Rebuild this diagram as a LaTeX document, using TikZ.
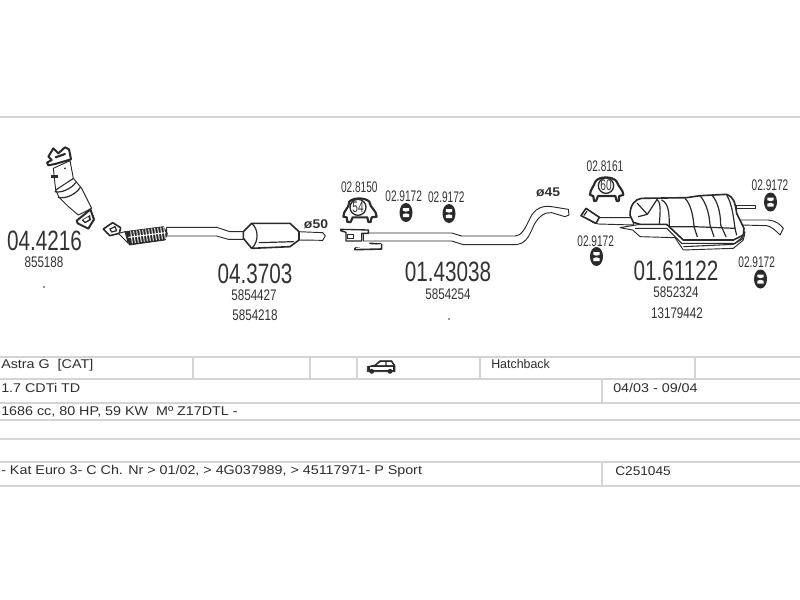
\documentclass[tikz,border=0pt]{standalone}
\usepackage{fontspec}
\setmainfont{Liberation Sans}
\definecolor{rule}{HTML}{D4D4D4}
\definecolor{ink}{HTML}{2E2E2E}
\definecolor{txt}{HTML}{333333}
\definecolor{part}{HTML}{2A2A2A}
\newcommand{\bignum}[1]{\scalebox{0.74}[1]{\fontsize{21}{21}\selectfont #1}}
\newcommand{\refnum}[1]{\scalebox{0.76}[1]{\fontsize{11.5}{12}\selectfont #1}}
\newcommand{\clampnum}[1]{\scalebox{0.66}[1]{\fontsize{11.5}{12}\selectfont #1}}
\newcommand{\wide}[1]{\scalebox{1.13}[1]{#1}}
\tikzset{
  tablerule/.style={draw=rule,line width=1.1pt},
  bignumber/.style={text=txt,inner sep=0pt,anchor=center},
  rowtext/.style={text=ink,inner sep=0pt,anchor=west,font=\fontsize{9.5}{11}\selectfont},
  pipe/.style={draw=part,line width=0.7pt,fill=white,line join=round},
  thickpart/.style={draw=part,line width=1.2pt,fill=white,line join=round},
  darkpart/.style={draw=part,fill=part,line width=0.6pt,line join=round},
  seam/.style={draw=part,line width=0.9pt,line cap=round,line join=round},
  mount/.pic={
    \fill[part] (0,0) ellipse [x radius=6.5,y radius=9.5];
    \fill[white] (-3.2,-4.5) -- (3.2,-4.5) -- (3.2,-1.8) -- (0,-0.8) -- (-3.2,-1.8) -- cycle;
    \fill[white] (-3.2,4.5) -- (3.2,4.5) -- (3.2,1.8) -- (0,0.8) -- (-3.2,1.8) -- cycle;
  }
}
\begin{document}
\begin{tikzpicture}[x=0.75pt,y=-0.75pt]
\useasboundingbox (0,0) rectangle (800,600);
\fill[white] (0,0) rectangle (800,600);
% table rules
\draw[tablerule] (0,117) -- (800,117);
\foreach \yy in {357,379,403,420,439,462,486}{\draw[tablerule] (0,\yy) -- (800,\yy);}
\foreach \xx in {193,310,357,480,695}{\draw[tablerule] (\xx,357) -- (\xx,379);}
\draw[tablerule] (602,379) -- (602,403);
\draw[tablerule] (602,462) -- (602,486);
% table text
\node[rowtext] (r1) at (1,365) {\wide{Astra G\ \ [CAT]}};
\node[rowtext] (r1b) at (491,364) {\scalebox{0.98}[1]{Hatchback}};
\node[rowtext] (r2) at (1,388) {\wide{1.7 CDTi TD}};
\node[rowtext] (r2b) at (613,388) {\wide{04/03 - 09/04}};
\node[rowtext] (r3) at (1,412) {\wide{1686 cc, 80 HP, 59 KW\ \ Mº Z17DTL -}};
\node[rowtext] (r5) at (1,471) {\wide{- Kat Euro 3- C Ch. Nr > 01/02, > 4G037989, > 45117971- P Sport}};
\node[rowtext] (r5b) at (615,471) {\scalebox{1.08}[1]{C251045}};
% car icon
\begin{scope}[shift={(0,345)},scale=1/3]
\draw[darkpart] (1102,80) -- (1102,65) -- (1125,60) -- (1140,47) -- (1175,47) -- (1185,62) -- (1185,80) -- cycle;
\fill[white] (1130,60) -- (1143,51) -- (1156,51) -- (1156,60) -- cycle;
\fill[white] (1160,51) -- (1173,51) -- (1179,60) -- (1160,60) -- cycle;
\fill[white] (1110,65) -- (1178,65) -- (1178,76) -- (1110,76) -- cycle;
\draw[darkpart] (1115,79) circle (6);
\draw[darkpart] (1170,79) circle (6);
\end{scope}
% cat 04.4216
\begin{scope}[shift={(35,140)},scale=1/3]
\draw[pipe] (62,150) -- (115,115) -- (140,145) -- (170,205) -- (130,225) -- (98,198) -- (72,172) -- cycle;
\draw[seam] (60,155) .. controls (80,160) and (110,145) .. (122,128);
\draw[seam] (70,172) .. controls (95,178) and (125,160) .. (136,142);
\draw[pipe] (55,85) -- (105,62) -- (115,115) -- (62,150) -- cycle;
\draw[thickpart,line width=1.5pt] (40,50) -- (55,25) -- (70,40) -- (90,22) -- (102,28) -- (108,58) -- (60,72) -- (40,76) -- (36,68) -- (50,60) -- cycle;
\draw[seam,line width=1.6pt] (62,52) -- (90,42);
\draw[darkpart] (48,105) rectangle (68,113);
\fill[part] (90,85) circle (3);
\draw[thickpart,line width=1.5pt] (125,242) -- (150,222) -- (166,208) -- (177,238) -- (160,266) -- (128,250) -- cycle;
\fill[part] (140,240) -- (165,225) -- (168,240) -- (150,250) -- cycle;
\fill[white] (146,239) -- (160,231) -- (162,238) -- (150,245) -- cycle;
\end{scope}
\node[bignumber] (n1) at (44.5,241) {\bignum{04.4216}};
\node[bignumber] (n1a) at (44,262) {\refnum{855188}};
\fill[part] (44,287) circle (0.9);
% pipe 04.3703
\begin{scope}[shift={(0,130)},scale=1/3]
\draw[pipe] (895,305) -- (968,308) -- (976,318) -- (968,331) -- (895,330) -- cycle;
\draw[pipe] (500,292) -- (650,292) -- (690,305) -- (735,305) -- (735,328) -- (685,328) -- (650,318) -- (500,318) -- cycle;
\draw[thickpart] (730,305) -- (755,280) -- (870,280) -- (897,305) -- (897,330) -- (870,350) -- (755,355) -- (730,325) -- cycle;
\draw[seam] (755,280) .. controls (775,295) and (778,335) .. (755,355);
\draw[seam] (778,338) -- (880,335);
\draw[thickpart] (310,297) -- (338,278) -- (362,293) -- (358,310) -- (330,317) -- cycle;
\draw[seam] (330,297) -- (345,290) -- (350,302) -- (335,306) -- cycle;
\draw[darkpart] (375,305) -- (490,290) -- (502,310) -- (495,330) -- (388,345) -- cycle;
\foreach \i in {0,...,11}{
  \draw[white,line width=0.7pt] ({392+9*\i},{304-1.2*\i}) -- ({397+9*\i},{340-1.2*\i});
}
\draw[white,line width=0.8pt] (385,322) -- (497,308);
\draw[pipe] (355,310) -- (375,305) -- (385,340) -- cycle;
\end{scope}
\node[text=txt,inner sep=0pt,font=\fontsize{9.5}{10}\selectfont\bfseries] (d50) at (316,224) {\scalebox{1.1}[1]{ø50}};
\node[bignumber] (n2) at (255,274) {\bignum{04.3703}};
\node[bignumber] (n2a) at (254,295) {\refnum{5854427}};
\node[bignumber] (n2b) at (255,315) {\refnum{5854218}};
% pipe 01.43038
\begin{scope}[shift={(330,160)},scale=1/3]
\draw[pipe] (100,219) -- (365,219) -- (395,228) -- (555,228) .. controls (575,228) and (585,205) .. (600,175) .. controls (612,148) and (635,135) .. (665,140) -- (715,148) -- (717,165) -- (705,170) -- (665,158) .. controls (645,155) and (625,170) .. (612,195) .. controls (595,235) and (585,252) .. (555,254) -- (400,254) -- (365,243) -- (100,243) -- cycle;
\draw[pipe,line width=1pt] (32,208) -- (115,210) -- (115,220) -- (95,220) -- (95,243) -- (48,243) -- (48,217) -- (32,212) -- cycle;
\fill[part] (50,222) rectangle (72,236);
\fill[white] (54,225) rectangle (70,233);
\draw[thickpart] (75,264) -- (150,262) -- (153,252) -- (118,250);
\draw[thickpart] (75,264) -- (75,269) -- (155,267) -- (155,252);
\end{scope}
\node[text=txt,inner sep=0pt,font=\fontsize{9.5}{10}\selectfont\bfseries] (d45) at (548,192) {\scalebox{1.1}[1]{ø45}};
\node[bignumber] (n3) at (448,272) {\bignum{01.43038}};
\node[bignumber] (n3a) at (448,294) {\refnum{5854254}};
\fill[part] (449,319) circle (0.9);
% clamp 02.8150
\begin{scope}[shift={(330,160)},scale=1/3]
\draw[thickpart,line width=1.6pt] (40,170) .. controls (40,150) and (58,145) .. (58,125) .. controls (70,112) and (105,112) .. (118,125) .. controls (120,145) and (140,150) .. (140,170) -- (125,172) -- (122,186) -- (115,186) -- (112,172) -- (68,172) -- (62,186) -- (52,186) -- (50,172) -- cycle;
\draw[part,line width=1pt,fill=white] (84,142) circle (24);
\node[text=txt,inner sep=0pt] (c54) at (84,142) {\clampnum{54}};
\node[text=txt,inner sep=0pt] (l1) at (88,83) {\clampnum{02.8150}};
\node[text=txt,inner sep=0pt] (l2) at (221,108) {\clampnum{02.9172}};
\node[text=txt,inner sep=0pt] (l3) at (349,112) {\clampnum{02.9172}};
\end{scope}
\pic at (406,212.5) {mount};
\pic at (449,213.5) {mount};
% silencer 01.61122
\begin{scope}[shift={(570,140)},scale=1/3]
\draw[pipe] (37,225) -- (50,207) -- (90,233) -- (190,233) -- (190,255) -- (85,252) -- (70,248) -- cycle;
\draw[thickpart] (33,227) -- (48,205) -- (88,232) -- (78,250) -- cycle;
\draw[seam] (42,226) -- (51,214);
\node[text=txt,inner sep=0pt] (l4) at (105,78) {\clampnum{02.8161}};
\node[text=txt,inner sep=0pt] (l5) at (600,135) {\clampnum{02.9172}};
\node[text=txt,inner sep=0pt] (l6) at (77,303) {\clampnum{02.9172}};
\node[text=txt,inner sep=0pt] (l7) at (560,366) {\clampnum{02.9172}};
\draw[thickpart,line width=1.6pt] (60,165) .. controls (60,148) and (72,140) .. (76,125) .. controls (85,108) and (130,108) .. (140,125) .. controls (145,140) and (160,150) .. (160,165) -- (148,168) -- (146,183) -- (140,183) -- (136,168) -- (84,168) -- (78,183) -- (72,183) -- (70,168) -- cycle;
\draw[part,line width=1pt,fill=white] (108,137) circle (23);
\node[text=txt,inner sep=0pt] (c60) at (108,137) {\clampnum{60}};
\end{scope}
\begin{scope}[shift={(620,185)},scale=1/3]
\draw[pipe] (360,105) -- (445,105) .. controls (470,108) and (480,118) .. (490,130) -- (480,150) .. controls (465,135) and (455,125) .. (440,122) -- (365,120) -- cycle;
\draw[pipe] (350,60) -- (405,60) -- (405,70) -- (350,70) -- cycle;
\draw[pipe] (0,128) -- (60,118) -- (140,118) -- (190,165) -- (340,165) -- (375,140) -- (370,165) -- (340,190) -- (190,195) -- (165,158) -- (60,155) -- (38,135) -- cycle;
\draw[thickpart] (30,90) .. controls (30,60) and (45,42) .. (65,40) -- (200,38) -- (240,32) -- (320,28) .. controls (340,35) and (345,50) .. (350,85) -- (372,130) -- (370,150) -- (340,165) -- (190,165) -- (140,118) -- (60,118) -- (40,112) -- cycle;
\draw[seam] (110,42) .. controls (122,52) and (122,70) .. (118,118);
\draw[seam] (125,45) .. controls (145,55) and (148,80) .. (148,125);
\draw[seam] (195,40) .. controls (215,60) and (220,100) .. (222,125) -- (232,155);
\draw[seam] (240,32) .. controls (260,55) and (268,90) .. (270,120) -- (282,155);
\draw[seam] (275,30) .. controls (295,50) and (302,90) .. (302,120) -- (318,155);
\draw[seam] (320,30) .. controls (335,55) and (340,90) .. (345,130) -- (350,150);
\draw[seam] (52,55) -- (82,88) -- (55,95);
\draw[seam] (82,88) -- (110,45);
\draw[seam] (148,125) -- (222,125) -- (345,130);
\draw[part,line width=0.8pt] (45,130) -- (140,130) -- (185,175) -- (345,175) -- (375,150);
\draw[part,line width=0.8pt] (190,185) -- (340,178) -- (370,160);
\end{scope}
\pic at (596.5,256.5) {mount};
\pic at (770.5,202) {mount};
\pic at (760.5,279) {mount};
\node[bignumber] (n4) at (676,271) {\bignum{01.61122}};
\node[bignumber] (n4a) at (676,292) {\refnum{5852324}};
\node[bignumber] (n4b) at (677,313) {\refnum{13179442}};
\end{tikzpicture}
\end{document}
